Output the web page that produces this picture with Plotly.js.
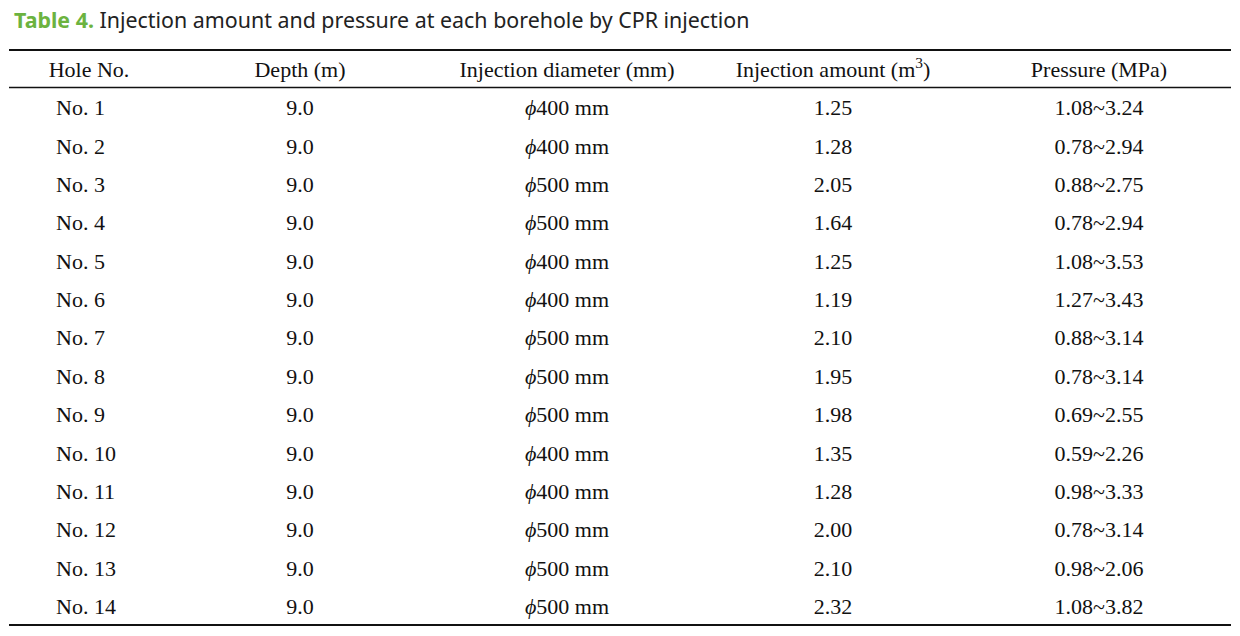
<!DOCTYPE html>
<html>
<head>
<meta charset="utf-8">
<script src="https://cdn.plot.ly/plotly-3.0.1.min.js"></script>
<style>
html,body{margin:0;padding:0;background:#fff;}
#chart{width:1240px;height:636px;}
</style>
</head>
<body>
<div id="chart"></div>
<script>
// ---- data ----
const titleLabel = "Table 4.";
const titleText = "Injection amount and pressure at each borehole by CPR injection";
const headers = ["Hole No.", "Depth (m)", "Injection diameter (mm)", "Injection amount (m<sup>3</sup>)", "Pressure (MPa)"];
const holes = ["No. 1","No. 2","No. 3","No. 4","No. 5","No. 6","No. 7","No. 8","No. 9","No. 10","No. 11","No. 12","No. 13","No. 14"];
const depths = ["9.0","9.0","9.0","9.0","9.0","9.0","9.0","9.0","9.0","9.0","9.0","9.0","9.0","9.0"];
const diameters = [400,400,500,500,400,400,500,500,500,400,400,500,500,500];
const amounts = ["1.25","1.28","2.05","1.64","1.25","1.19","2.10","1.95","1.98","1.35","1.28","2.00","2.10","2.32"];
const pressures = ["1.08~3.24","0.78~2.94","0.88~2.75","0.78~2.94","1.08~3.53","1.27~3.43","0.88~3.14","0.78~3.14","0.69~2.55","0.59~2.26","0.98~3.33","0.78~3.14","0.98~2.06","1.08~3.82"];

// ---- layout helpers ----
const colX = [56, 300, 567, 833, 1099];
const headerX = [89, 300, 567, 833, 1099];
const rows = holes.map((_, i) => i);
const font = {family: "Liberation Serif, Times New Roman, serif", size: 22, color: "#111"};

const columns = [
  holes,
  depths,
  diameters.map(d => "<i>ϕ</i>" + d + " mm"),
  amounts,
  pressures
];

const traces = [];
// header
traces.push({
  type: "scatter", mode: "text",
  x: headerX, y: headers.map(() => -1),
  text: headers, textposition: "middle center",
  textfont: font, hoverinfo: "skip", showlegend: false, cliponaxis: false
});
columns.forEach((col, c) => {
  traces.push({
    type: "scatter", mode: "text",
    x: rows.map(() => colX[c]), y: rows,
    text: col,
    textposition: c === 0 ? "middle right" : "middle center",
    textfont: font, hoverinfo: "skip", showlegend: false, cliponaxis: false
  });
});

const pitch = 38.38;
const y0px = 109.7;
const rTop = -y0px / pitch;
const rBot = (636 - y0px) / pitch;

const layout = {
  width: 1240, height: 636,
  margin: {l: 0, r: 0, t: 0, b: 0},
  paper_bgcolor: "#fff", plot_bgcolor: "#fff",
  xaxis: {range: [0, 1240], visible: false, fixedrange: true},
  yaxis: {range: [rBot, rTop], visible: false, fixedrange: true},
  shapes: [
    {type: "line", xref: "x", yref: "y", x0: 9, x1: 1231, y0: -1.555, y1: -1.555, line: {color: "#111", width: 2}},
    {type: "line", xref: "x", yref: "y", x0: 9, x1: 1231, y0: -0.578, y1: -0.578, line: {color: "#111", width: 1.5}},
    {type: "line", xref: "x", yref: "y", x0: 9, x1: 1231, y0: 13.425, y1: 13.425, line: {color: "#111", width: 2}}
  ],
  annotations: [{
    xref: "paper", yref: "paper", x: 12 / 1240, y: 1 - 20 / 636,
    xanchor: "left", yanchor: "middle", showarrow: false,
    text: '<b><span style="color:#6cb33f">' + titleLabel + '</span></b> ' + titleText,
    font: {family: "Noto Sans, Roboto, sans-serif", size: 21.4, color: "#222"}
  }]
};

Plotly.newPlot("chart", traces, layout, {displayModeBar: false, staticPlot: true});
</script>
</body>
</html>
